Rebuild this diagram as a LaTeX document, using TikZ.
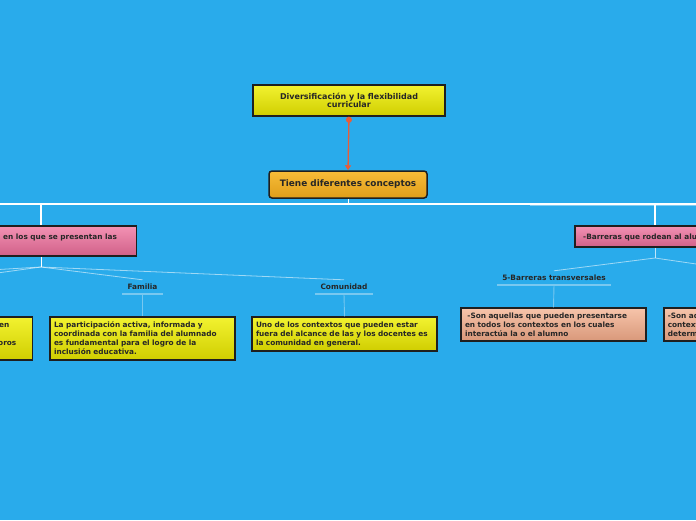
\documentclass[tikz,border=0pt]{standalone}
\usepackage{fontspec}
\setmainfont{DejaVu Sans}
\usetikzlibrary{arrows.meta,positioning}

\definecolor{fondo}{RGB}{41,171,235}
\definecolor{amarilloA}{RGB}{242,242,48}
\definecolor{amarilloB}{RGB}{208,206,0}
\definecolor{naranjaA}{RGB}{248,188,56}
\definecolor{naranjaB}{RGB}{222,158,26}
\definecolor{rosaA}{RGB}{243,146,180}
\definecolor{rosaB}{RGB}{208,96,136}
\definecolor{salmonA}{RGB}{247,196,170}
\definecolor{salmonB}{RGB}{216,152,122}
\definecolor{enlace}{RGB}{234,92,56}
\definecolor{rayita}{RGB}{120,200,240}

\tikzset{
  caja/.style={draw=black!88, line width=1.5pt, inner xsep=4pt, text=black!85,
    font=\bfseries\fontsize{7.35}{9}\selectfont},
  amarilla/.style={caja, top color=amarilloA, bottom color=amarilloB},
  naranja/.style={caja, rounded corners=3pt, top color=naranjaA, bottom color=naranjaB},
  rosa/.style={caja, top color=rosaA, bottom color=rosaB},
  salmon/.style={caja, top color=salmonA, bottom color=salmonB},
  texto/.style={text width=177pt, align=left},
  letra/.style={inner sep=0pt, text=black!85, font=\bfseries\fontsize{7.35}{9}\selectfont},
  etiqueta/.style={inner xsep=5pt, minimum height=14pt, text=black!85,
    font=\bfseries\fontsize{7.4}{9}\selectfont},
  rama/.style={white, line width=1.6pt},
  tenue/.style={white, opacity=0.55, line width=0.8pt},
  subraya/.style={rayita, line width=1.6pt},
  baja/.style={rayita, line width=0.9pt}
}

\begin{document}
\begin{tikzpicture}[x=1pt,y=-1pt,>=Latex]
  \fill[fondo] (0,0) rectangle (696,520);
  \useasboundingbox (0,0) rectangle (696,520);
  \clip (0,0) rectangle (696,520);

  % centro
  \node[amarilla, minimum width=192pt, minimum height=31pt, align=center,
    font=\bfseries\fontsize{8}{8.5}\selectfont] (titulo) at (349,100.5)
    {Diversificación y la flexibilidad\\curricular};
  \node[naranja, minimum width=158pt, minimum height=27pt,
    font=\bfseries\fontsize{8.9}{9}\selectfont] (conceptos) at (348,184.5) {Tiene diferentes conceptos};
  \draw[enlace, line width=1.3pt, {Circle[length=6pt]}-{Triangle[length=5pt,width=6pt]}]
    (titulo.south) -- (conceptos.north);

  % ramas
  \coordinate (barra) at (348,204);
  \coordinate (barraI) at (-5,204);
  \coordinate (barraD) at (701,204);
  \draw[white, line width=0.8pt] (conceptos.south) -- (barra);
  \draw[rama] (barraI) -- (barraD);
  \draw[white, opacity=0.4, line width=0.8pt] (530,205.6) -- (barraD |- 0,205.6);

  % lado izquierdo
  \node[rosa, minimum width=200pt, minimum height=30pt, anchor=east] (contextos) at (137,241) {};
  \node[letra, anchor=west] (contextostxt) at (3,237.5) {en los que se presentan las};
  \draw[white, line width=1.2pt] (41,204) -- (contextos.north -| 41,0);
  \coordinate (nudoI) at (41,267);
  \draw[white, line width=1pt] (contextos.south -| 41,0) -- (nudoI);
  \coordinate (fueraA) at (-10,270);
  \coordinate (fueraB) at (-10,274);
  \draw[tenue] (nudoI) -- (fueraA);
  \draw[tenue] (nudoI) -- (fueraB);

  \node[etiqueta] (familia) at (142.5,287) {Familia};
  \node[etiqueta] (comunidad) at (344,287) {Comunidad};
  \draw[tenue] (nudoI) -- (familia.north);
  \draw[tenue] (nudoI) -- (comunidad.north);
  \draw[subraya] (familia.south west) -- (familia.south east);
  \draw[subraya] (comunidad.south west) -- (comunidad.south east);

  \node[amarilla, minimum width=185pt, minimum height=43pt, anchor=east] (escuela) at (33,338.5) {};
  \node[letra, anchor=base east] (escuelaA) at (9.5,327.5) {en};
  \node[letra, anchor=base east] (escuelaB) at (16.5,345.5) {oros};

  \node[amarilla, texto, minimum height=43pt] (familiatxt) at (142.5,338.5)
    {La participación activa, informada y\\coordinada con la familia del alumnado\\es fundamental para el logro de la\\inclusión educativa.};
  \node[amarilla, texto, minimum height=34pt] (comunidadtxt) at (344.5,334)
    {Uno de los contextos que pueden estar\\fuera del alcance de las y los docentes es\\la comunidad en general.};
  \draw[baja] (familia.south) -- (familiatxt.north);
  \draw[baja] (comunidad.south) -- (comunidadtxt.north);

  % lado derecho
  \node[rosa, minimum width=190pt, minimum height=21pt, anchor=west] (barreras) at (574,236.5) {};
  \node[letra, anchor=west] (barrerastxt) at (583,237.5) {-Barreras que rodean al alumno};
  \draw[white, line width=1.2pt] (655,204) -- (barreras.north -| 655,0);
  \coordinate (nudoD) at (655,258);
  \draw[white, opacity=0.7, line width=1pt] (barreras.south -| 655,0) -- (nudoD);
  \coordinate (fueraC) at (710,266);
  \draw[tenue] (nudoD) -- (fueraC);

  \node[etiqueta] (transversales) at (554,278) {5-Barreras transversales};
  \draw[tenue] (nudoD) -- (transversales.north);
  \draw[subraya] (transversales.south west) -- (transversales.south east);

  \node[salmon, texto, minimum height=33pt] (transversalestxt) at (553.5,324.5)
    {~-Son aquellas que pueden presentarse\\en todos los contextos en los cuales\\interactúa la o el alumno};
  \draw[baja] (transversales.south) -- (transversalestxt.north);
  \node[salmon, texto, minimum height=33pt, anchor=west] (otras) at (663,324.5)
    {-Son aquellas\\contextos\\determinados};
\end{tikzpicture}
\end{document}
